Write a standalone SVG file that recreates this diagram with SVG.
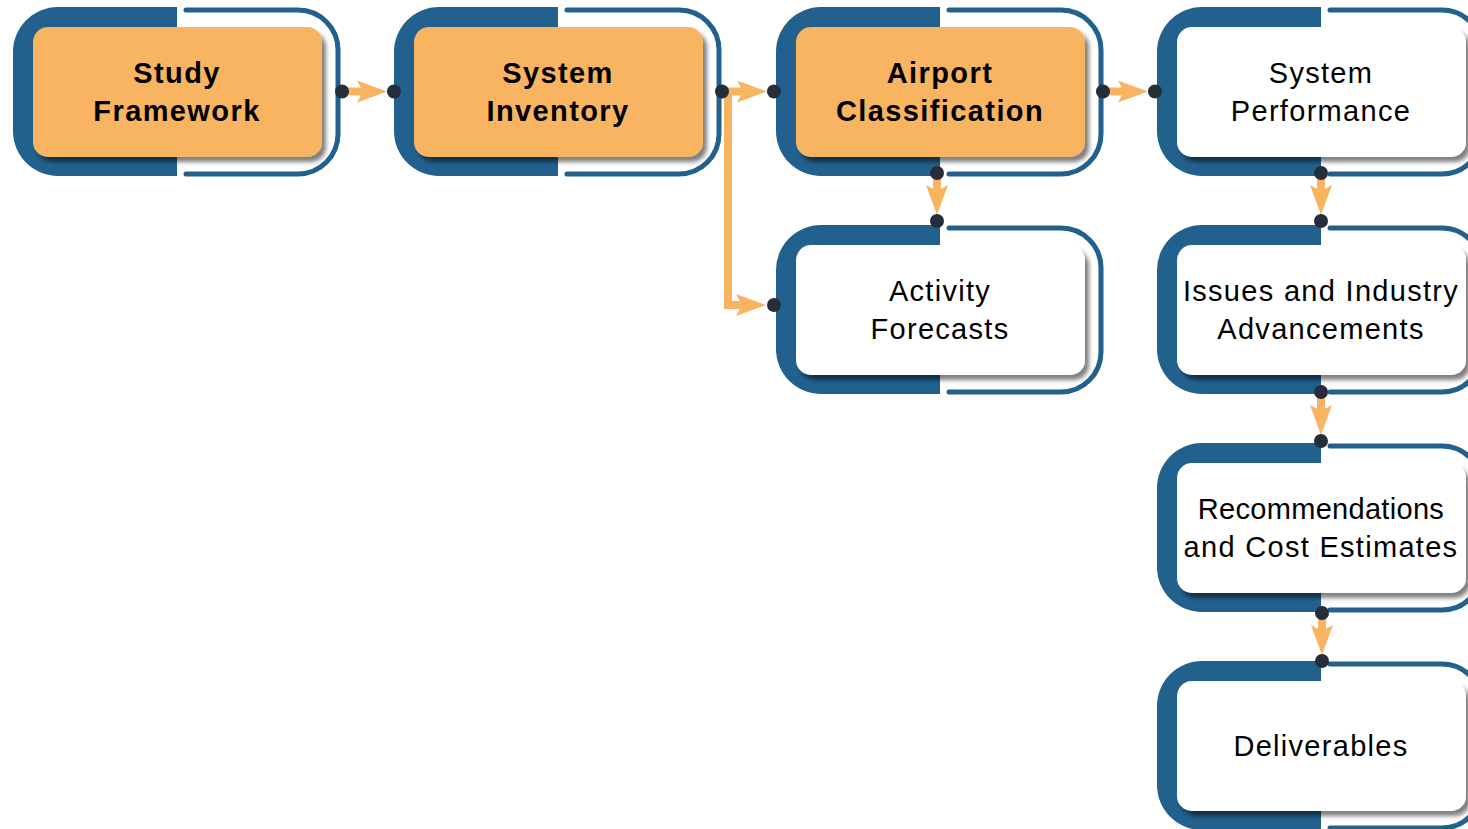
<svg xmlns="http://www.w3.org/2000/svg" xmlns:xlink="http://www.w3.org/1999/xlink" width="1468" height="829" viewBox="0 0 1468 829">
<style>
.blue{fill:#22618e}
.thin{fill:none;stroke:#22618e;stroke-width:5;stroke-linecap:round}
.card{stroke:none;filter:url(#sh)}
.orange{fill:#f8b461}
.white{fill:#ffffff}
.t{font-family:"Liberation Sans",Arial,sans-serif;font-size:29px;fill:#000;text-anchor:middle;letter-spacing:1.3px}
.b{font-weight:bold;letter-spacing:1.4px}
.dot{fill:#262e39}
.shaft{fill:none;stroke:#f8b461;stroke-width:8;stroke-linejoin:miter}
</style>
<defs>
<filter id="sh" x="-10%" y="-10%" width="125%" height="130%">
<feDropShadow dx="4" dy="5" stdDeviation="2" flood-color="#000" flood-opacity="0.5"/>
</filter>
<marker id="ah" viewBox="0 -12 32 24" markerWidth="32" markerHeight="24" refX="8" refY="0" orient="auto" markerUnits="userSpaceOnUse">
<path d="M30,0 L0,-11 L6,0 L0,11 Z" fill="#f8b461"/>
</marker>
<g id="frame">
<path class="blue" d="M177,7 H58 A45,45 0 0 0 13,52 V131 A45,45 0 0 0 58,176 H177 Z"/>
<path class="thin" d="M186,10 H298 A40,40 0 0 1 338,50 V134 A40,40 0 0 1 298,174 H186"/>
</g>
</defs>

<g id="connectors">
<line class="shaft" x1="342" y1="91.5" x2="365" y2="91.5" marker-end="url(#ah)"/>
<line class="shaft" x1="722" y1="91.5" x2="745" y2="91.5" marker-end="url(#ah)"/>
<polyline class="shaft" points="728,91.5 728,305 744,305" marker-end="url(#ah)"/>
<line class="shaft" x1="1103" y1="91.5" x2="1126" y2="91.5" marker-end="url(#ah)"/>
<line class="shaft" x1="937" y1="173" x2="937" y2="193" marker-end="url(#ah)"/>
<line class="shaft" x1="1321" y1="173" x2="1321" y2="193" marker-end="url(#ah)"/>
<line class="shaft" x1="1321" y1="392" x2="1321" y2="413" marker-end="url(#ah)"/>
<line class="shaft" x1="1322" y1="613" x2="1322" y2="633" marker-end="url(#ah)"/>
</g>

<g id="node-study-framework">
<use xlink:href="#frame"/>
<rect class="card orange" x="33" y="27" width="289" height="130" rx="15"/>
<text class="t b" x="177" y="83">Study</text>
<text class="t b" x="177" y="121">Framework</text>
</g>

<g id="node-system-inventory" transform="translate(381,0)">
<use xlink:href="#frame"/>
<rect class="card orange" x="33" y="27" width="289" height="130" rx="15"/>
<text class="t b" x="177" y="83">System</text>
<text class="t b" x="177" y="121">Inventory</text>
</g>

<g id="node-airport-classification" transform="translate(763,0)">
<use xlink:href="#frame"/>
<rect class="card orange" x="33" y="27" width="289" height="130" rx="15"/>
<text class="t b" x="177" y="83">Airport</text>
<text class="t b" x="177" y="121">Classification</text>
</g>

<g id="node-system-performance" transform="translate(1144,0)">
<use xlink:href="#frame"/>
<rect class="card white" x="33" y="27" width="289" height="130" rx="15"/>
<text class="t" x="177" y="83">System</text>
<text class="t" x="177" y="121">Performance</text>
</g>

<g id="node-activity-forecasts" transform="translate(763,218)">
<use xlink:href="#frame"/>
<rect class="card white" x="33" y="27" width="289" height="130" rx="15"/>
<text class="t" x="177" y="83">Activity</text>
<text class="t" x="177" y="121">Forecasts</text>
</g>

<g id="node-issues" transform="translate(1144,218)">
<use xlink:href="#frame"/>
<rect class="card white" x="33" y="27" width="289" height="130" rx="15"/>
<text class="t" x="177" y="83">Issues and Industry</text>
<text class="t" x="177" y="121">Advancements</text>
</g>

<g id="node-recommendations" transform="translate(1144,436)">
<use xlink:href="#frame"/>
<rect class="card white" x="33" y="27" width="289" height="130" rx="15"/>
<text class="t" x="177" y="83" style="letter-spacing:0.3px">Recommendations</text>
<text class="t" x="177" y="121">and Cost Estimates</text>
</g>

<g id="node-deliverables" transform="translate(1144,654)">
<use xlink:href="#frame"/>
<rect class="card white" x="33" y="27" width="289" height="130" rx="15"/>
<text class="t" x="177" y="102">Deliverables</text>
</g>

<g id="dots">
<circle class="dot" cx="342" cy="91.5" r="7"/>
<circle class="dot" cx="394" cy="91.5" r="7"/>
<circle class="dot" cx="722" cy="91.5" r="7"/>
<circle class="dot" cx="774" cy="91.5" r="7"/>
<circle class="dot" cx="774" cy="305" r="7"/>
<circle class="dot" cx="1103" cy="91.5" r="7"/>
<circle class="dot" cx="1155" cy="91.5" r="7"/>
<circle class="dot" cx="937" cy="173" r="7"/>
<circle class="dot" cx="937" cy="221" r="7"/>
<circle class="dot" cx="1321" cy="173" r="7"/>
<circle class="dot" cx="1321" cy="221" r="7"/>
<circle class="dot" cx="1321" cy="392" r="7"/>
<circle class="dot" cx="1321" cy="441" r="7"/>
<circle class="dot" cx="1322" cy="613" r="7"/>
<circle class="dot" cx="1322" cy="661" r="7"/>
</g>
</svg>
